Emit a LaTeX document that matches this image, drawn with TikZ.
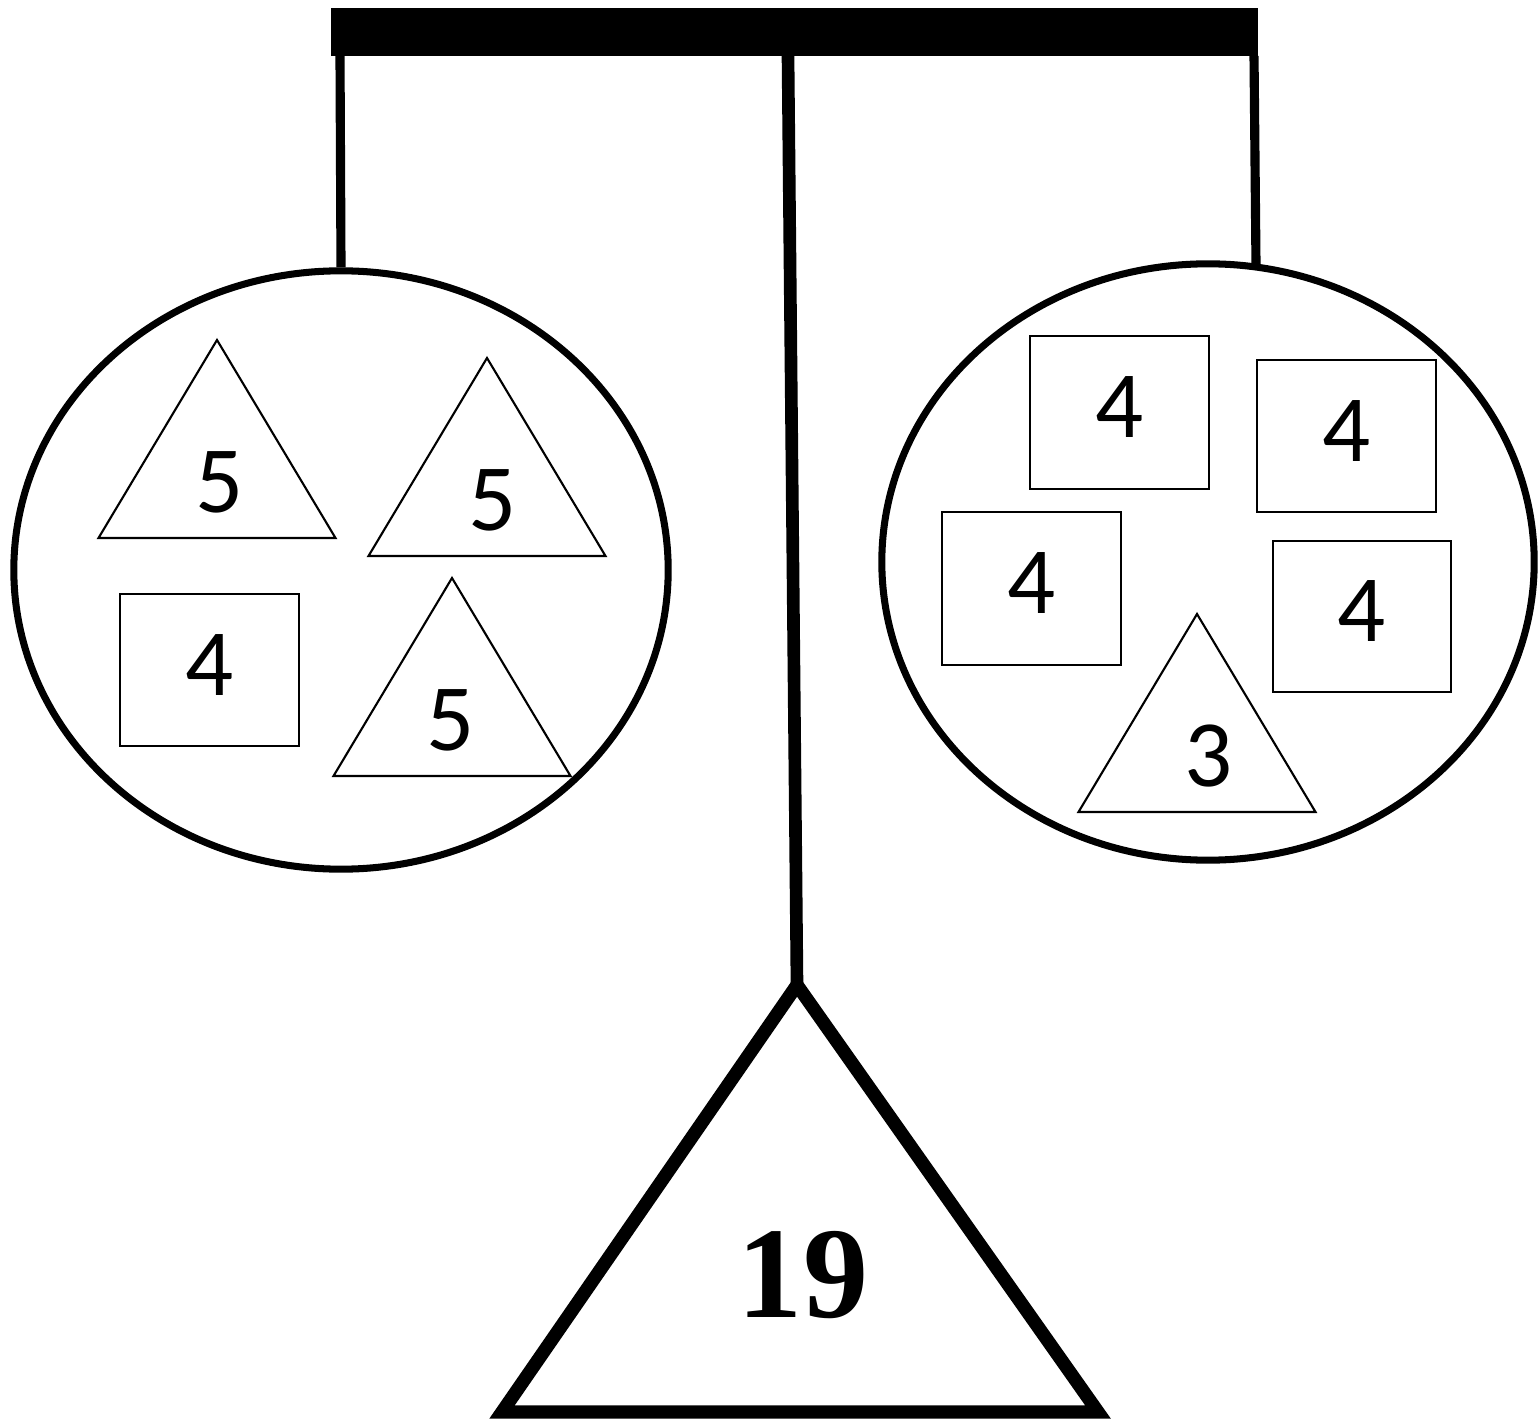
\documentclass[tikz,border=0pt]{standalone}
\usepackage{fontspec}
\setmainfont{Carlito}
\newfontfamily\weightfont{Liberation Serif}
\usetikzlibrary{calc,shapes.geometric}
\tikzset{
    thinline/.style={line width=0.6pt},
    digit/.style={inner sep=0pt,font=\fontsize{27}{27}\selectfont},
    pan/.style={draw,ellipse,line width=2pt,inner sep=0pt},
    hanger/.style={line width=2.6pt},
}
\newcommand\TriWeight[5]{%
    \coordinate (#1) at (#2,#3);
    \draw[thinline] (#1) -- ++(-118.5,198) -- ++(237,0) -- cycle;
    \node[digit] (#1-num) at ($(#1)+(#4,142)$) {#5};
}
\newcommand\BoxWeight[6]{%
    \draw[thinline] (#2,#3) rectangle (#4,#5);
    \node[digit] (#1) at ($(#2,#3)!0.5!(#4,#5)+(0,-5)$) {#6};
}

\begin{document}
\begin{tikzpicture}[x=0.01cm,y=-0.01cm]
    \useasboundingbox (0,0) rectangle (1540,1419);
    % beam and stand
    \fill (331,8) rectangle (1258,56);
    \coordinate (lhook) at (340,56);
    \coordinate (rhook) at (1254,56);
    \coordinate (mid) at (788,56);
    \coordinate (apex) at (797,985);
    \draw[line width=3.6pt] (mid) -- (apex);
    \draw[line width=3.8pt,line join=miter] (apex) -- (502,1412) -- (1098,1412) -- cycle;
    \node[inner sep=0pt,font=\weightfont\bfseries\fontsize{37}{37}\selectfont] (total) at (803,1275) {19};
    % pans
    \node[pan,minimum width=6.54cm,minimum height=5.98cm] (lpan) at (341,570) {};
    \node[pan,minimum width=6.52cm,minimum height=5.96cm] (rpan) at (1208,562) {};
    \draw[hanger] (lhook) -- (lpan.north);
    \draw[hanger] (rhook) -- (1256,266);
    % left pan
    \TriWeight{la}{217}{340}{3}{5}
    \TriWeight{lb}{487}{358}{6}{5}
    \TriWeight{lc}{452}{578}{-1}{5}
    \BoxWeight{ld}{120}{594}{299}{746}{4}
    % right pan
    \BoxWeight{ra}{1030}{336}{1209}{489}{4}
    \BoxWeight{rb}{1257}{360}{1436}{512}{4}
    \BoxWeight{rc}{942}{512}{1121}{665}{4}
    \BoxWeight{rd}{1273}{541}{1451}{692}{4}
    \TriWeight{re}{1197}{614}{12}{3}
\end{tikzpicture}
\end{document}
